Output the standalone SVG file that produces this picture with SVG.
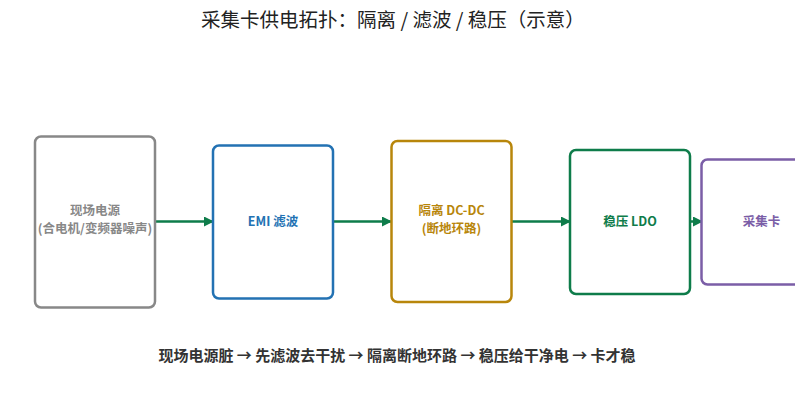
<svg xmlns="http://www.w3.org/2000/svg" width="795" height="417" viewBox="0 0 795 417">
<style>
text{font-family:"Noto Sans CJK SC","Noto Sans",sans-serif}
.t{font-size:19.5px;fill:#222;text-anchor:middle}
.lbl{font-size:12.5px;font-weight:bold;text-anchor:middle}
.box{fill:#fff;stroke-width:2.5}
.cap{font-size:15px;font-weight:bold;fill:#333;text-anchor:middle}
.arr{stroke:#0e7c4a;stroke-width:2.5;fill:none;marker-end:url(#ah)}
</style>
<defs>
<marker id="ah" viewBox="0 0 10 10" refX="9" refY="5" markerWidth="4" markerHeight="4" orient="auto" markerUnits="strokeWidth">
<path d="M0,0 L10,5 L0,10 z" fill="#0e7c4a"/>
</marker>
</defs>
<rect width="795" height="417" fill="#fff"/>
<text class="t" x="393" y="27">采集卡供电拓扑：隔离 / 滤波 / 稳压（示意）</text>
<g id="connectors">
<line class="arr" x1="154" y1="221.5" x2="213" y2="221.5"/>
<line class="arr" x1="330" y1="221.5" x2="391" y2="221.5"/>
<line class="arr" x1="508" y1="221.5" x2="570" y2="221.5"/>
<line class="arr" x1="686" y1="221.5" x2="702" y2="221.5"/>
</g>
<g id="source">
<rect class="box" x="35" y="136.5" width="120" height="171" rx="6" stroke="#888"/>
<text class="lbl" fill="#888" x="95" y="214.5">现场电源</text>
<text class="lbl" fill="#888" x="95" y="233">(合电机/变频器噪声)</text>
</g>
<g id="emi">
<rect class="box" x="213" y="145.5" width="120" height="153" rx="6" stroke="#2372b3"/>
<text class="lbl" fill="#2372b3" x="273" y="226">EMI 滤波</text>
</g>
<g id="dcdc">
<rect class="box" x="391.5" y="141" width="120" height="161" rx="6" stroke="#b8860b"/>
<text class="lbl" fill="#b8860b" x="451.5" y="214.5">隔离 DC-DC</text>
<text class="lbl" fill="#b8860b" x="451.5" y="233">(断地环路)</text>
</g>
<g id="ldo">
<rect class="box" x="570" y="150" width="120" height="144" rx="6" stroke="#0e7c4a"/>
<text class="lbl" fill="#0e7c4a" x="630" y="226">稳压 LDO</text>
</g>
<g id="card">
<rect class="box" x="701.5" y="159.5" width="120" height="125" rx="6" stroke="#7b5ea7"/>
<text class="lbl" fill="#7b5ea7" x="761.5" y="226">采集卡</text>
</g>
<text class="cap" x="397" y="361">现场电源脏 → 先滤波去干扰 → 隔离断地环路 → 稳压给干净电 → 卡才稳</text>
</svg>
